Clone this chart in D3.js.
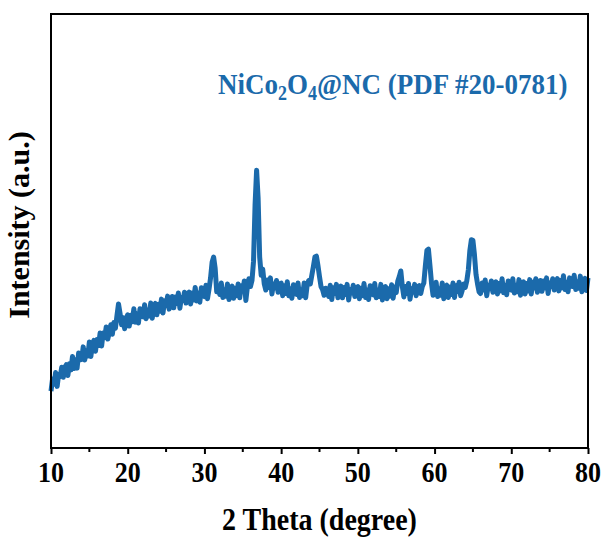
<!DOCTYPE html>
<html>
<head>
<meta charset="utf-8">
<script src="https://cdn.jsdelivr.net/npm/d3@7"></script>
<style>
  html, body { margin: 0; padding: 0; background: #fff; }
  svg { display: block; }
</style>
</head>
<body>
<div id="chart"></div>
<script>
// XRD pattern, one value every 0.2 degree from 10 to 80
const thetaStart = 10, thetaStep = 0.2;
const intensity = [
  131,159,147,174,142,170,165,186,163,186,   // 10
  192,167,194,180,211,183,203,184,219,203,   // 12
  204,233,203,224,212,244,211,241,248,223,   // 14
  250,236,265,235,265,255,279,251,266,284,   // 16
  262,289,276,305,332,310,284,300,275,298,   // 18
  307,281,306,291,321,290,309,288,321,304,   // 20
  302,330,298,318,304,334,299,328,333,307,   // 22
  331,315,343,311,339,328,350,320,333,349,   // 24
  323,348,333,357,322,347,340,359,334,355,   // 26
  359,332,357,341,370,339,357,336,369,351,   // 28
  349,375,344,366,392,428,440,414,360,370,   // 30
  354,380,347,365,350,378,342,369,373,345,   // 32
  368,351,378,346,374,362,385,340,371,390,   // 34
  372,386,430,560,640,575,440,398,412,378,   // 36
  364,387,370,392,355,378,369,386,359,378,   // 38
  380,351,374,356,383,351,367,345,376,357,   // 40
  354,380,347,365,351,380,346,377,386,378,   // 42
  398,418,440,442,420,395,372,365,352,368,   // 44
  366,349,375,342,369,356,377,346,358,373,   // 46
  346,370,354,377,341,365,357,375,349,369,   // 48
  372,344,368,351,379,347,364,342,374,355,   // 50
  353,379,346,364,349,377,341,368,372,344,   // 52
  367,350,376,345,371,358,384,395,408,372,   // 54
  348,372,356,379,343,367,359,377,351,371,   // 56
  374,356,372,380,420,455,458,420,380,352,   // 58
  356,382,349,367,352,380,344,371,375,347,   // 60
  371,354,380,347,374,361,382,351,363,378,   // 62
  370,385,410,455,480,478,445,400,378,360,   // 64
  356,380,364,387,351,375,367,385,359,379,   // 66
  383,355,379,362,390,358,375,353,385,366,   // 68
  364,390,357,375,360,388,352,379,383,355,   // 70
  379,362,388,355,382,369,390,359,371,386,   // 72
  361,385,369,392,356,380,372,390,364,384,   // 74
  390,362,386,369,397,365,382,360,392,373,   // 76
  372,398,365,383,368,396,360,387,391,363,   // 78
  392                                        // 80
];
const majorTicks = [10, 20, 30, 40, 50, 60, 70, 80];
const minorTicks = [15, 25, 35, 45, 55, 65, 75];
const xTitle = "2 Theta (degree)";
const yTitle = "Intensity (a.u.)";

let width = 607, height = 541;
let margin = ({ top: 14, right: 19, bottom: 93, left: 51 });
let blue = "#1b6aab";
let serif = "'Liberation Serif', 'Times New Roman', serif";
let stretch = 1.12;   // the picture's lettering is a bit taller than wide

let x = d3.scaleLinear()
    .domain([10, 80])
    .range([margin.left, width - margin.right]);

let y = d3.scaleLinear()
    .domain([0, 1000])
    .range([height - margin.bottom, margin.top]);

let svg = d3.select("#chart")
    .append("svg")
    .attr("width", width)
    .attr("height", height)
    .attr("font-family", serif)
    .attr("font-weight", "bold");

let data = intensity.map((v, i) => [thetaStart + i * thetaStep, v]);

let line = d3.line()
    .x(d => x(d[0]))
    .y(d => y(d[1]));

svg.append("path")
    .datum(data)
    .attr("fill", "none")
    .attr("stroke", blue)
    .attr("stroke-width", 5)
    .attr("stroke-linejoin", "round")
    .attr("d", line);

// frame
svg.append("rect")
    .attr("x", margin.left)
    .attr("y", margin.top)
    .attr("width", width - margin.left - margin.right)
    .attr("height", height - margin.top - margin.bottom)
    .attr("fill", "none")
    .attr("stroke", "#000")
    .attr("stroke-width", 2);

// bottom axis
let xAxis = svg.append("g")
    .attr("transform", `translate(0,${height - margin.bottom})`)
    .call(d3.axisBottom(x).tickValues(majorTicks).tickSize(6).tickFormat(""));
xAxis.select(".domain").remove();
xAxis.selectAll(".tick line").attr("stroke-width", 2);

svg.append("g")
    .attr("font-size", 26)
    .attr("text-anchor", "middle")
    .selectAll("text")
    .data(majorTicks)
    .join("text")
    .attr("transform", d => `translate(${x(d)},482) scale(1,${stretch})`)
    .text(d => d);

svg.append("g")
    .selectAll("line")
    .data(minorTicks)
    .join("line")
    .attr("x1", d => x(d)).attr("x2", d => x(d))
    .attr("y1", height - margin.bottom).attr("y2", height - margin.bottom + 4)
    .attr("stroke", "#000")
    .attr("stroke-width", 2);

// axis titles
svg.append("text")
    .attr("transform", `translate(${(margin.left + width - margin.right) / 2},530) scale(1,${stretch})`)
    .attr("text-anchor", "middle")
    .attr("font-size", 28)
    .text(xTitle);

svg.append("text")
    .attr("transform", `translate(29,225) rotate(-90)`)
    .attr("text-anchor", "middle")
    .attr("font-size", 30)
    .text(yTitle);

// phase label
let label = svg.append("text")
    .attr("transform", `translate(218,94) scale(1,${stretch})`)
    .attr("font-size", 27)
    .attr("fill", blue);
label.append("tspan").text("NiCo");
label.append("tspan").attr("font-size", 18).attr("dy", 5).text("2");
label.append("tspan").attr("dy", -5).text("O");
label.append("tspan").attr("font-size", 18).attr("dy", 5).text("4");
label.append("tspan").attr("dy", -5).text("@NC (PDF #20-0781)");
</script>
</body>
</html>
